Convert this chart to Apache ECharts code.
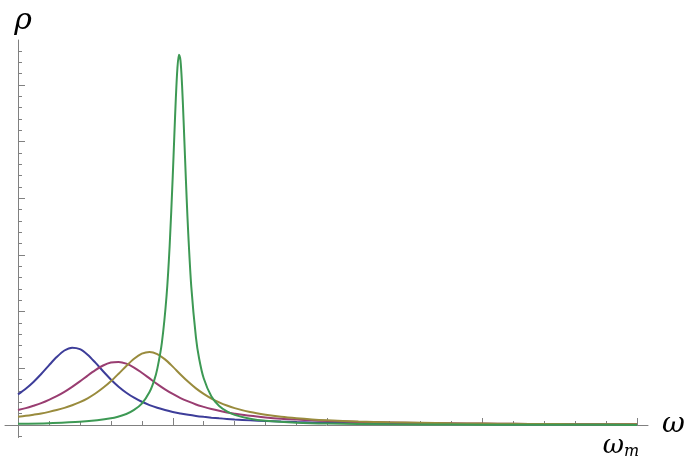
<!DOCTYPE html>
<html>
<head>
<meta charset="utf-8">
<script src="https://cdn.jsdelivr.net/npm/echarts@6/dist/echarts.min.js"></script>
<style>
  html, body { margin: 0; padding: 0; background: #fff; }
  #chart { width: 692px; height: 466px; }
</style>
</head>
<body>
<div id="chart"></div>
<script>
// omega in units of the small x tick (omega_m = 20), rho in units of the small y tick
const omega = [
  0, 0.25, 0.5, 0.75, 1, 1.25, 1.5, 1.75, 2, 2.25, 2.5, 2.75, 3, 3.25, 3.5, 3.75,
  4, 4.25, 4.5, 4.75, 5, 5.25, 5.5, 5.75, 6, 6.25, 6.5, 6.75, 7,
  7.5, 8, 8.5, 9, 9.5, 10, 11, 12, 13, 14, 15, 16, 17, 18, 19, 20
];
const rhoBlue = [
  2.70, 3.20, 3.80, 4.50, 5.26, 5.99, 6.57, 6.82, 6.69, 6.20, 5.50, 4.74, 4.02, 3.38, 2.85, 2.41,
  2.05, 1.76, 1.52, 1.32, 1.15, 1.02, 0.90, 0.80, 0.72, 0.65, 0.59, 0.54, 0.49,
  0.41, 0.35, 0.30, 0.26, 0.23, 0.21, 0.16, 0.13, 0.11, 0.095, 0.081, 0.070, 0.061, 0.054, 0.048, 0.043
];
const rhoPurple = [
  1.32, 1.49, 1.70, 1.93, 2.22, 2.55, 2.93, 3.37, 3.85, 4.36, 4.84, 5.25, 5.51, 5.56, 5.41, 5.07,
  4.61, 4.11, 3.61, 3.15, 2.74, 2.38, 2.08, 1.81, 1.60, 1.41, 1.25, 1.11, 1.00,
  0.81, 0.67, 0.56, 0.48, 0.41, 0.36, 0.275, 0.22, 0.18, 0.147, 0.124, 0.105, 0.091, 0.079, 0.070, 0.062
];
const rhoOlive = [
  0.73, 0.81, 0.91, 1.02, 1.16, 1.32, 1.51, 1.74, 2.02, 2.36, 2.78, 3.28, 3.86, 4.52, 5.21, 5.84,
  6.29, 6.45, 6.26, 5.79, 5.15, 4.46, 3.81, 3.23, 2.74, 2.33, 2.00, 1.72, 1.49,
  1.14, 0.90, 0.72, 0.59, 0.49, 0.42, 0.31, 0.24, 0.19, 0.15, 0.125, 0.105, 0.090, 0.077, 0.067, 0.059
];
const omegaGreen = [
  0, 1, 2, 3, 3.5, 3.75, 4, 4.25, 4.4, 4.5, 4.65, 4.8, 4.9, 5, 5.05, 5.1, 5.15, 5.2, 5.25, 5.3,
  5.35, 5.4, 5.45, 5.5, 5.6, 5.75, 5.85, 6, 6.25, 6.5, 6.75, 7, 7.5, 8, 9, 10, 12, 14, 16, 18, 20
];
const rhoGreen = [
  0.108, 0.165, 0.283, 0.592, 0.976, 1.33, 1.89, 2.91, 3.94, 4.95, 7.29, 11.40, 15.81, 21.95, 25.47, 28.83, 31.44, 32.66, 32.13, 30.0,
  26.85, 23.34, 19.94, 16.91, 12.16, 7.71, 5.89, 4.12, 2.51, 1.68, 1.20, 0.893, 0.552, 0.374, 0.204, 0.128, 0.064, 0.038, 0.025, 0.018, 0.013
];

const xMinorTicks = [1, 2, 3, 4, 6, 7, 8, 9, 11, 12, 13, 14, 16, 17, 18, 19];
const xMajorTicks = [5, 10, 15, 20];
const yMinorTicks = [-1, 1, 2, 3, 4, 6, 7, 8, 9, 11, 12, 13, 14, 16, 17, 18, 19, 21, 22, 23, 24, 26, 27, 28, 29, 31, 32, 33];
const yMajorTicks = [5, 10, 15, 20, 25, 30];
const xLabelTicks = [20];

const X_MIN = -0.42, X_MAX = 20.355, Y_MIN = -1.1, Y_MAX = 33.95;
const AXIS_GRAY = "#808080";
const SERIF = '"DejaVu Serif", "Liberation Serif", serif';

function pairs(xs, ys) {
  return xs.map((x, i) => [x, ys[i]]);
}

function lineSeries(data, color) {
  return {
    type: "line",
    xAxisIndex: 0,
    yAxisIndex: 0,
    data: data,
    showSymbol: false,
    smooth: 0.3,
    lineStyle: { color: color, width: 2 },
    itemStyle: { color: color },
  };
}

const gridBox = { left: 5, right: 44, top: 40, bottom: 28.5, containLabel: false, outerBoundsMode: "none" };

const myChart = echarts.init(document.getElementById("chart"));
const option = {
  animation: false,
  grid: [Object.assign({}, gridBox), Object.assign({}, gridBox)],
  xAxis: [
    {
      gridIndex: 0,
      type: "value",
      min: X_MIN,
      max: X_MAX,
      splitLine: { show: false },
      axisLine: { onZero: true, lineStyle: { color: AXIS_GRAY, width: 1 } },
      axisTick: { inside: true, length: 4, customValues: xMinorTicks, lineStyle: { color: AXIS_GRAY } },
      axisLabel: {
        customValues: xLabelTicks,
        margin: -4,
        align: "center",
        padding: [0, 32, 0, 0],
        formatter: () => "{w|ω}{m|m}",
        rich: {
          w: { fontFamily: SERIF, fontStyle: "italic", fontSize: 26, color: "#000" },
          m: { fontFamily: SERIF, fontStyle: "italic", fontSize: 16, color: "#000", padding: [10, 0, 0, 0] },
        },
      },
      name: "ω",
      nameLocation: "end",
      nameGap: 14,
      nameTextStyle: { fontFamily: SERIF, fontStyle: "italic", fontSize: 28, color: "#000", padding: [0, 0, 6, 0] },
    },
    {
      gridIndex: 1,
      type: "value",
      min: X_MIN,
      max: X_MAX,
      splitLine: { show: false },
      axisLine: { show: false, onZero: true },
      axisTick: { inside: true, length: 7, customValues: xMajorTicks, lineStyle: { color: AXIS_GRAY } },
      axisLabel: { show: false },
    },
  ],
  yAxis: [
    {
      gridIndex: 0,
      type: "value",
      min: Y_MIN,
      max: Y_MAX,
      splitLine: { show: false },
      axisLine: { onZero: true, lineStyle: { color: AXIS_GRAY, width: 1 } },
      axisTick: { inside: true, length: 4, customValues: yMinorTicks, lineStyle: { color: AXIS_GRAY } },
      axisLabel: { show: false },
      name: "ρ",
      nameLocation: "end",
      nameGap: 4,
      nameTextStyle: { fontFamily: SERIF, fontStyle: "italic", fontSize: 30, color: "#000", padding: [0, 0, 0, 10] },
    },
    {
      gridIndex: 1,
      type: "value",
      min: Y_MIN,
      max: Y_MAX,
      splitLine: { show: false },
      axisLine: { show: false, onZero: true },
      axisTick: { inside: true, length: 7, customValues: yMajorTicks, lineStyle: { color: AXIS_GRAY } },
      axisLabel: { show: false },
    },
  ],
  series: [
    lineSeries(pairs(omega, rhoBlue), "#3d3d99"),
    lineSeries(pairs(omega, rhoPurple), "#993d71"),
    lineSeries(pairs(omega, rhoOlive), "#998b3d"),
    lineSeries(pairs(omegaGreen, rhoGreen), "#3d9954"),
  ],
};
myChart.setOption(option);
</script>
</body>
</html>
